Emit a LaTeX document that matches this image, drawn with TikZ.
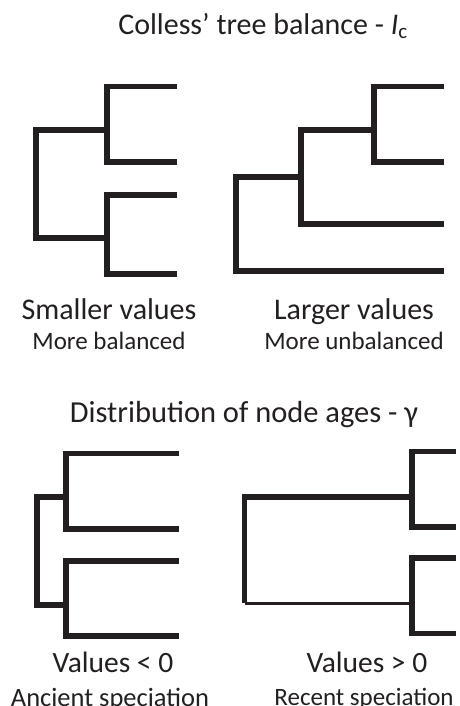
\documentclass[tikz,border=0pt]{standalone}
\usepackage{fontspec}
\setmainfont{Carlito}
\definecolor{ink}{HTML}{231F20}
\begin{document}
\begin{tikzpicture}[x=1pt,y=-1pt,
  branch/.style={draw=ink,line width=5.5pt,line join=miter,line cap=butt},
  thin/.style={draw=ink,line width=3.5pt,line cap=butt},
  lbl/.style={text=ink,anchor=base,inner sep=0pt},
  big/.style={lbl,font=\fontsize{30}{30}\selectfont},
  mid/.style={lbl,font=\fontsize{29.5}{29.5}\selectfont},
  small/.style={lbl,font=\fontsize{25}{25}\selectfont}]
\useasboundingbox (0,0) rectangle (459,706);
% titles
\node[big] (t1) at (263,35) {Colless’ tree balance - \textit{I}\textsubscript{c}};
\node[lbl,font=\fontsize{30.5}{30.5}\selectfont] (t2) at (244,422) {Distribution of node ages - γ};
% top left: balanced
\draw[branch] (177,86.3) -- (107,86.3) -- (107,162) -- (177,162);
\draw[branch] (177,195) -- (107,195) -- (107,274) -- (177,274);
\draw[branch] (107,130) -- (36,130) -- (36,238) -- (107,238);
% top right: unbalanced
\draw[branch] (444,86.3) -- (374,86.3) -- (374,162) -- (444,162);
\draw[branch] (374,130) -- (301,130) -- (301,224) -- (444,224);
\draw[branch] (301,177) -- (236,177) -- (236,271) -- (444,271);
% labels top
\node[big] (s1) at (109,319) {Smaller values};
\node[small] (s2) at (109,349) {More balanced};
\node[big] (l1) at (354,319) {Larger values};
\node[small] (l2) at (354,349) {More unbalanced};
% bottom left: ancient
\draw[branch] (179,453.3) -- (66,453.3) -- (66,529) -- (179,529);
\draw[branch] (179,561) -- (66,561) -- (66,636) -- (179,636);
\draw[branch] (66,497) -- (37,497) -- (37,605) -- (66,605);
% bottom right: recent
\draw[branch] (456,451.7) -- (412,451.7) -- (412,527) -- (456,527);
\draw[branch] (456,558) -- (412,558) -- (412,633.5) -- (456,633.5);
\draw[branch] (412,497) -- (244.5,497) -- (244.5,603.3);
\draw[thin] (244.5,603.3) -- (412,603.3);
% labels bottom
\node[mid] (v1) at (113,672) {Values < 0};
\node[lbl,font=\fontsize{26.5}{26.5}\selectfont] (a1) at (110,706) {Ancient speciation};
\node[mid] (v2) at (367,672) {Values > 0};
\node[small] (r1) at (364,705) {Recent speciation};
\end{tikzpicture}
\end{document}
